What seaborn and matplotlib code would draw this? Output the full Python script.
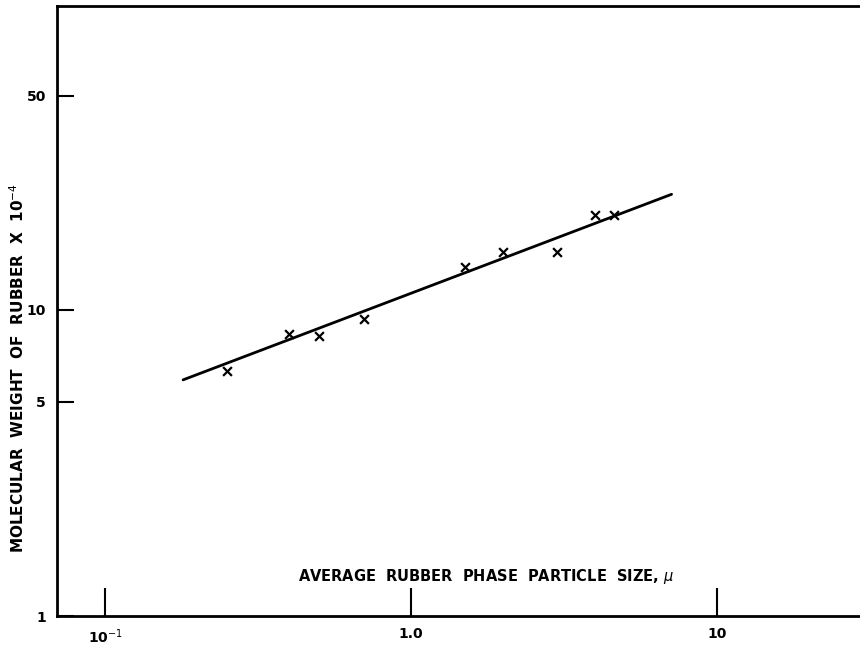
import numpy as np
import pandas as pd
import matplotlib
matplotlib.use("Agg")
import matplotlib.pyplot as plt
import seaborn as sns

# measured points (particle size in microns, mol. weight x 1e-4)
particle_size = [0.25, 0.40, 0.50, 0.70, 1.5, 2.0, 3.0, 4.0, 4.6]
mol_weight = [6.3, 8.3, 8.2, 9.3, 13.8, 15.4, 15.4, 20.4, 20.4]

# fitted straight line (end points)
fit_size = [0.18, 7.1]
fit_weight = [5.9, 23.8]

x_ticks = [0.1, 1.0, 10]
x_tick_labels = ["10$^{-1}$", "1.0", "10"]
y_ticks = [1, 5, 10, 50]
y_tick_labels = ["1", "5", "10", "50"]

sns.set_style("ticks")
plt.rcParams["font.family"] = ["DejaVu Sans"]
plt.rcParams["text.color"] = "black"
plt.rcParams["xtick.color"] = "black"
plt.rcParams["ytick.color"] = "black"

fig = plt.figure(figsize=(8.6, 6.5), dpi=100)
ax = fig.add_axes([57 / 860, 34 / 650, 1 - 57 / 860, 610 / 650])

points = pd.DataFrame({"size": particle_size, "mw": mol_weight})
fit = pd.DataFrame({"size": fit_size, "mw": fit_weight})

sns.lineplot(data=fit, x="size", y="mw", color="black", linewidth=2, ax=ax)
sns.scatterplot(data=points, x="size", y="mw", marker="x", color="black",
                s=40, linewidth=1.6, ax=ax, zorder=3)

ax.set_xscale("log")
ax.set_yscale("log")
ax.set_xlim(0.0697, 29.3)
ax.set_ylim(1, 98)

ax.set_xticks(x_ticks)
ax.set_xticklabels(x_tick_labels)
ax.set_yticks(y_ticks)
ax.set_yticklabels(y_tick_labels)
ax.minorticks_off()
ax.tick_params(axis="x", direction="in", length=20, width=1.5, pad=8,
               labelsize=10, colors="black")
ax.tick_params(axis="y", direction="in", length=12, width=1.5, pad=8,
               labelsize=10, colors="black")
for lab in ax.get_xticklabels() + ax.get_yticklabels():
    lab.set_fontweight("bold")

for side in ["left", "bottom", "top"]:
    ax.spines[side].set_linewidth(2)
    ax.spines[side].set_color("black")
ax.spines["right"].set_visible(False)

ax.set_xlabel("")
ax.set_ylabel("")
fig.text(486 / 860, 1 - 576 / 650, "AVERAGE  RUBBER  PHASE  PARTICLE  SIZE, $\\mu$",
         ha="center", va="center", fontsize=10.5, fontweight="bold",
         color="black")
fig.text(18 / 860, 1 - 368 / 650, "MOLECULAR  WEIGHT  OF  RUBBER  X  10$^{-4}$",
         ha="center", va="center", rotation=90, fontsize=11, fontweight="bold",
         color="black")

fig.savefig("out.png", dpi=100, facecolor="white")
